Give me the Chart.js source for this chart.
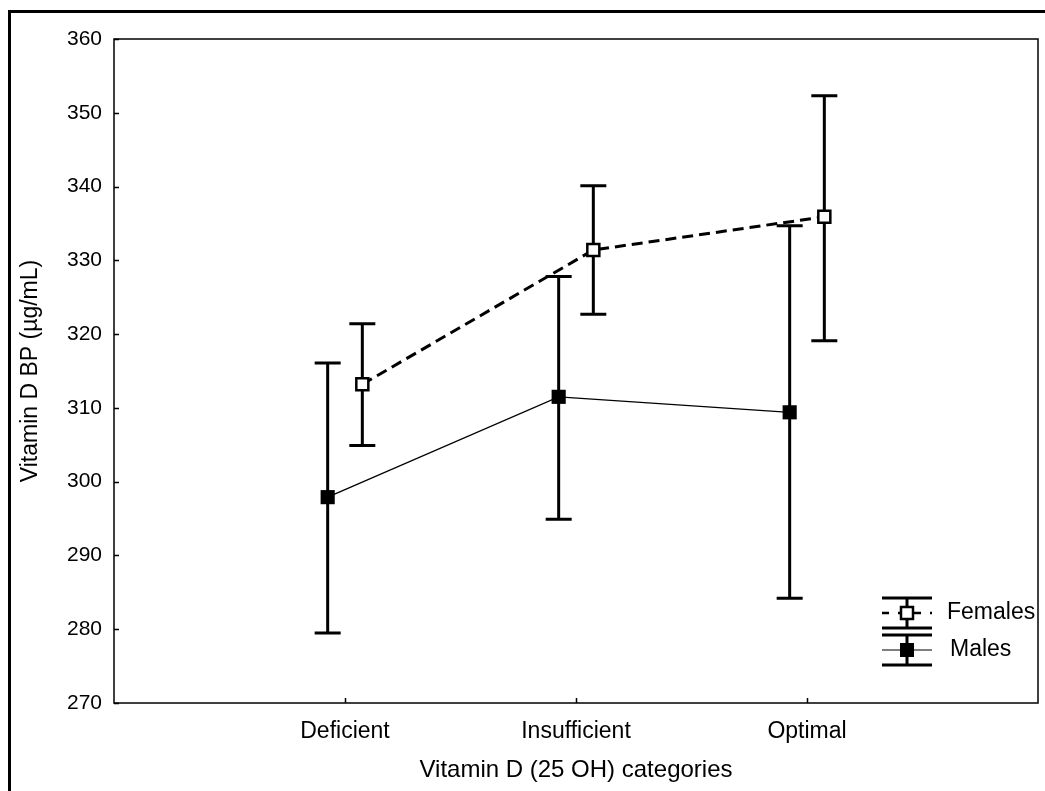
<!DOCTYPE html>
<html>
<head>
<meta charset="utf-8">
<script src="https://cdn.jsdelivr.net/npm/chart.js@4"></script>
<style>
  html, body { margin: 0; padding: 0; background: #fff; }
  #wrap { width: 1045px; height: 791px; }
</style>
</head>
<body>
<div id="wrap"><canvas id="chart" width="1045" height="791"></canvas></div>
<script>
// categories on the x axis, placed at 1, 2, 3
const categories = ['Deficient', 'Insufficient', 'Optimal'];

// Females (open squares, dashed line)
const femaleMean = [313.2, 331.4, 335.9];
const femaleLow  = [304.9, 322.7, 319.1];
const femaleHigh = [321.4, 340.1, 352.3];

// Males (filled squares, solid line)
const maleMean = [297.9, 311.5, 309.4];
const maleLow  = [279.5, 294.9, 284.2];
const maleHigh = [316.1, 327.8, 334.7];

const yTicks = [270, 280, 290, 300, 310, 320, 330, 340, 350, 360];

const FONT = 'Liberation Sans, Arial, sans-serif';
const offset = 0.075; // dodge so the two series don't overlap

const femalePts = categories.map((c, i) => ({ x: i + 1 + offset, y: femaleMean[i] }));
const malePts = categories.map((c, i) => ({ x: i + 1 - offset, y: maleMean[i] }));

// error bars, box, inward ticks, outer frame and the legend glyphs
const extras = {
  id: 'extras',
  beforeDatasetsDraw(chart) {
    const ctx = chart.ctx;
    const xs = chart.scales.x, ys = chart.scales.y;
    const bars = [
      { off: -offset, low: maleLow, high: maleHigh },
      { off: offset, low: femaleLow, high: femaleHigh },
    ];
    ctx.save();
    ctx.strokeStyle = '#000';
    ctx.lineWidth = 3;
    bars.forEach(b => {
      categories.forEach((c, i) => {
        const px = xs.getPixelForValue(i + 1 + b.off);
        const top = ys.getPixelForValue(b.high[i]);
        const bot = ys.getPixelForValue(b.low[i]);
        ctx.beginPath();
        ctx.moveTo(px, top); ctx.lineTo(px, bot);
        ctx.moveTo(px - 13, top); ctx.lineTo(px + 13, top);
        ctx.moveTo(px - 13, bot); ctx.lineTo(px + 13, bot);
        ctx.stroke();
      });
    });
    ctx.restore();
  },
  afterDraw(chart) {
    const ctx = chart.ctx;
    const a = chart.chartArea;
    const xs = chart.scales.x, ys = chart.scales.y;
    ctx.save();
    // plot box
    ctx.strokeStyle = '#000';
    ctx.lineWidth = 1.5;
    ctx.strokeRect(a.left, a.top, a.right - a.left, a.bottom - a.top);
    // inward ticks
    ctx.beginPath();
    ys.ticks.forEach(t => {
      const py = Math.round(ys.getPixelForValue(t.value)) + 0.5;
      ctx.moveTo(a.left, py); ctx.lineTo(a.left + 5, py);
    });
    xs.ticks.forEach(t => {
      const px = Math.round(xs.getPixelForValue(t.value)) + 0.5;
      ctx.moveTo(px, a.bottom); ctx.lineTo(px, a.bottom - 5);
    });
    ctx.stroke();
    // outer frame
    ctx.lineWidth = 3;
    ctx.beginPath();
    ctx.moveTo(9.5, 800); ctx.lineTo(9.5, 11.5); ctx.lineTo(1060, 11.5);
    ctx.stroke();

    // legend
    const lx = 907;
    const rows = [
      { y: 613, dash: [7, 9], lw: 2.5, open: true, label: 'Females', tx: 947 },
      { y: 650, dash: [], lw: 1.2, open: false, label: 'Males', tx: 950 },
    ];
    rows.forEach(r => {
      ctx.strokeStyle = '#000';
      ctx.lineWidth = 3;
      ctx.setLineDash([]);
      ctx.beginPath();
      ctx.moveTo(lx - 25, r.y - 15); ctx.lineTo(lx + 25, r.y - 15);
      ctx.moveTo(lx - 25, r.y + 15); ctx.lineTo(lx + 25, r.y + 15);
      ctx.moveTo(lx, r.y - 15); ctx.lineTo(lx, r.y + 15);
      ctx.stroke();
      ctx.lineWidth = r.lw;
      ctx.setLineDash(r.dash);
      ctx.beginPath();
      ctx.moveTo(lx - 25, r.y); ctx.lineTo(lx + 25, r.y);
      ctx.stroke();
      ctx.setLineDash([]);
      if (r.open) {
        ctx.fillStyle = '#fff';
        ctx.fillRect(lx - 6, r.y - 6, 12, 12);
        ctx.lineWidth = 2.5;
        ctx.strokeRect(lx - 6, r.y - 6, 12, 12);
      } else {
        ctx.fillStyle = '#000';
        ctx.fillRect(lx - 7, r.y - 7, 14, 14);
      }
      ctx.fillStyle = '#000';
      ctx.font = '23px ' + FONT;
      ctx.textBaseline = 'middle';
      ctx.textAlign = 'left';
      ctx.fillText(r.label, r.tx, r.y);
    });
    ctx.restore();
  }
};

new Chart(document.getElementById('chart'), {
  type: 'scatter',
  data: {
    datasets: [
      {
        label: 'Females',
        data: femalePts,
        showLine: true,
        borderColor: '#000',
        borderWidth: 3,
        borderDash: [11, 6],
        pointStyle: 'rect',
        pointRadius: 8.5,
        pointBorderWidth: 2.5,
        pointBackgroundColor: '#fff',
        pointBorderColor: '#000',
        tension: 0,
      },
      {
        label: 'Males',
        data: malePts,
        showLine: true,
        borderColor: '#000',
        borderWidth: 1.3,
        pointStyle: 'rect',
        pointRadius: 10,
        pointBorderWidth: 0,
        pointBackgroundColor: '#000',
        pointBorderColor: '#000',
        tension: 0,
      },
    ],
  },
  options: {
    responsive: false,
    animation: false,
    layout: { autoPadding: false, padding: { top: 39, right: 7, left: 0, bottom: 0 } },
    plugins: {
      legend: { display: false },
      tooltip: { enabled: false },
    },
    scales: {
      x: {
        type: 'linear',
        min: 0,
        max: 4,
        afterBuildTicks: (scale) => {
          scale.ticks = categories.map((c, i) => ({ value: i + 1 }));
        },
        afterFit: (scale) => {
          scale.height = 88;
          scale.paddingLeft = 0;
          scale.paddingRight = 0;
        },
        ticks: {
          color: '#000',
          font: { family: FONT, size: 23 },
          padding: 15,
          callback: (v) => categories[v - 1] || '',
        },
        grid: { display: false, drawTicks: false },
        border: { display: false },
        title: {
          display: true,
          text: 'Vitamin D (25 OH) categories',
          color: '#000',
          font: { family: FONT, size: 24 },
          padding: { top: 4, bottom: 6 },
        },
      },
      y: {
        min: 270,
        max: 360,
        afterBuildTicks: (scale) => {
          scale.ticks = yTicks.map(v => ({ value: v }));
        },
        afterFit: (scale) => { scale.width = 114; },
        ticks: {
          color: '#000',
          font: { family: FONT, size: 21 },
          padding: 12,
        },
        grid: { display: false, drawTicks: false },
        border: { display: false },
        title: {
          display: true,
          text: 'Vitamin D BP (µg/mL)',
          color: '#000',
          font: { family: FONT, size: 23 },
          padding: { top: 17, bottom: 4 },
        },
      },
    },
  },
  plugins: [extras],
});
</script>
</body>
</html>
